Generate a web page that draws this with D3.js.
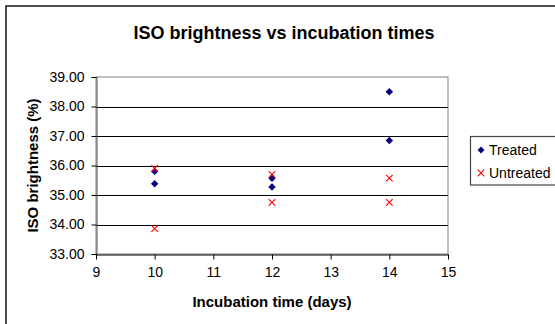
<!DOCTYPE html>
<html>
<head>
<meta charset="utf-8">
<script src="https://cdn.jsdelivr.net/npm/d3@7"></script>
<style>
  html, body { margin: 0; padding: 0; background: #fff; }
  svg { display: block; font-family: "Liberation Sans", Arial, sans-serif; }
</style>
</head>
<body>
<svg id="chart" width="555" height="324"></svg>
<script>
// Incubation time (days) for each measurement
const treatedDays = [10, 10, 12, 12, 14, 14];
const treatedBrightness = [35.80, 35.38, 35.57, 35.27, 38.50, 36.85];
const untreatedDays = [10, 10, 12, 12, 14, 14];
const untreatedBrightness = [35.90, 33.86, 35.70, 34.75, 35.57, 34.75];

const xTicks = [9, 10, 11, 12, 13, 14, 15];
const yTicks = [33, 34, 35, 36, 37, 38, 39];
const seriesNames = ["Treated", "Untreated"];

const svg = d3.select("#chart");

const plot = { left: 96, right: 448, top: 77, bottom: 254 };

const x = d3.scaleLinear().domain([9, 15]).range([plot.left, plot.right]);
const y = d3.scaleLinear().domain([33, 39]).range([plot.bottom, plot.top]);

// chart area border (extends past the right and bottom edges)
svg.append("rect")
  .attr("x", 6).attr("y", 6).attr("width", 560).attr("height", 330)
  .attr("fill", "#fff").attr("stroke", "#222").attr("stroke-width", 1.6);

// title
svg.append("text")
  .attr("x", 284).attr("y", 39)
  .attr("text-anchor", "middle")
  .attr("font-size", 18).attr("font-weight", "bold")
  .text("ISO brightness vs incubation times");

// plot area border (top/right in grey)
svg.append("rect")
  .attr("x", plot.left).attr("y", plot.top)
  .attr("width", plot.right - plot.left).attr("height", plot.bottom - plot.top)
  .attr("fill", "none").attr("stroke", "#808080").attr("stroke-width", 1);

// horizontal gridlines
svg.append("g")
  .selectAll("line")
  .data(yTicks.filter(d => d !== 33 && d !== 39))
  .join("line")
  .attr("x1", plot.left).attr("x2", plot.right)
  .attr("y1", d => Math.round(y(d)) + 0.5).attr("y2", d => Math.round(y(d)) + 0.5)
  .attr("stroke", "#000").attr("stroke-width", 1);

// y axis
const yAxis = svg.append("g")
  .attr("transform", `translate(${plot.left + 0.5},0)`)
  .call(d3.axisLeft(y).tickValues(yTicks).tickFormat(d3.format(".2f")).tickSize(5).tickPadding(7));
yAxis.select(".domain").attr("stroke", "#555");
yAxis.selectAll(".tick line").attr("stroke", "#000");
yAxis.selectAll(".tick text").attr("font-size", 14).attr("fill", "#000")
  .attr("font-family", "'Liberation Sans', Arial, sans-serif");

// x axis
const xAxis = svg.append("g")
  .attr("transform", `translate(0,${plot.bottom + 0.5})`)
  .call(d3.axisBottom(x).tickValues(xTicks).tickFormat(d3.format("d")).tickSizeInner(5).tickSizeOuter(0).tickPadding(8));
xAxis.select(".domain").attr("stroke", "#000");
xAxis.selectAll(".tick line").attr("stroke", "#000");
xAxis.selectAll(".tick text").attr("font-size", 14).attr("fill", "#000")
  .attr("font-family", "'Liberation Sans', Arial, sans-serif");

// axis titles
svg.append("text")
  .attr("x", (plot.left + plot.right) / 2).attr("y", 307)
  .attr("text-anchor", "middle")
  .attr("font-size", 15).attr("font-weight", "bold")
  .text("Incubation time (days)");

svg.append("text")
  .attr("transform", `translate(38,${(plot.top + plot.bottom) / 2}) rotate(-90)`)
  .attr("text-anchor", "middle")
  .attr("font-size", 15).attr("font-weight", "bold")
  .text("ISO brightness (%)");

// marker shapes
const diamond = (cx, cy, r) => `M${cx},${cy - r}L${cx + r},${cy}L${cx},${cy + r}L${cx - r},${cy}Z`;
const cross = (cx, cy, r) => `M${cx - r},${cy - r}L${cx + r},${cy + r}M${cx - r},${cy + r}L${cx + r},${cy - r}`;

const treated = treatedDays.map((d, i) => ({ day: d, value: treatedBrightness[i] }));
const untreated = untreatedDays.map((d, i) => ({ day: d, value: untreatedBrightness[i] }));

svg.append("g")
  .selectAll("path")
  .data(treated)
  .join("path")
  .attr("d", d => diamond(x(d.day), y(d.value), 3.7))
  .attr("fill", "#000080");

svg.append("g")
  .selectAll("path")
  .data(untreated)
  .join("path")
  .attr("d", d => cross(x(d.day), y(d.value), 3.3))
  .attr("fill", "none").attr("stroke", "#ff0000").attr("stroke-width", 1.1);

// legend
const legend = svg.append("g");
legend.append("rect")
  .attr("x", 470.5).attr("y", 136.5).attr("width", 100).attr("height", 48.5)
  .attr("fill", "#fff").attr("stroke", "#444").attr("stroke-width", 1.2);

const legendRows = [
  { name: seriesNames[0], cy: 150 },
  { name: seriesNames[1], cy: 173 }
];
legend.append("path").attr("d", diamond(481, legendRows[0].cy, 3.5)).attr("fill", "#000080");
legend.append("path").attr("d", cross(481, legendRows[1].cy, 3.3))
  .attr("fill", "none").attr("stroke", "#ff0000").attr("stroke-width", 1.1);
legend.selectAll("text.lbl")
  .data(legendRows)
  .join("text")
  .attr("class", "lbl")
  .attr("x", 489).attr("y", d => d.cy + 5)
  .attr("font-size", 14)
  .text(d => d.name);
</script>
</body>
</html>
